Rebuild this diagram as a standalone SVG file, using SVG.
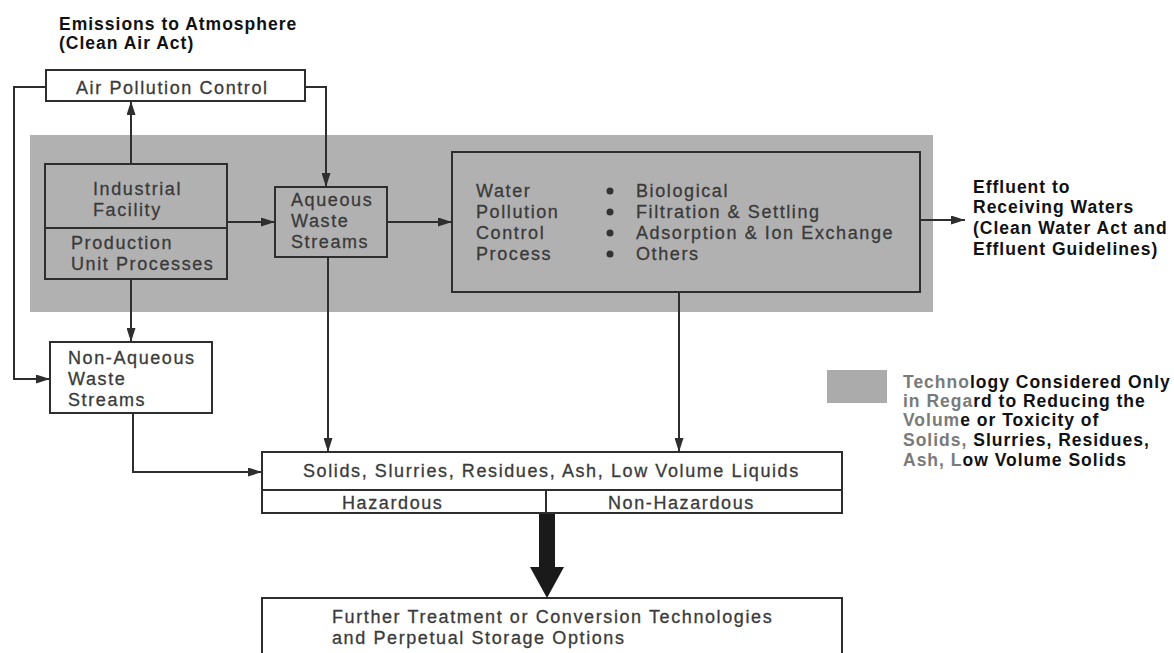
<svg xmlns="http://www.w3.org/2000/svg" width="1174" height="653" viewBox="0 0 1174 653">
<style>
.box{fill:#fff;stroke:#2e2e2e;stroke-width:2}
.gbox{fill:none;stroke:#2e2e2e;stroke-width:2}
.t{font-family:"Liberation Sans",Arial,sans-serif;font-size:18px;letter-spacing:1.6px;fill:#3a3a3a;stroke:#3a3a3a;stroke-width:0.3px}
.b{font-family:"Liberation Sans",Arial,sans-serif;font-size:17.5px;font-weight:bold;letter-spacing:1px;fill:#111}
.fade{fill:#7a7a7a}
.c{fill:none;stroke:#2e2e2e;stroke-width:2}
</style>
<defs>
<marker id="ah" markerUnits="userSpaceOnUse" markerWidth="14" markerHeight="9" refX="14" refY="4.5" orient="auto">
<path d="M0,0 L14,4.5 L0,9 z" fill="#2e2e2e"/>
</marker>
</defs>
<rect width="1174" height="653" fill="#fff"/>

<g id="band">
<rect x="30" y="135" width="903" height="177" fill="#b1b1b1"/>
</g>

<g id="title">
<text class="b" x="59" y="30">Emissions to Atmosphere</text>
<text class="b" x="59" y="49">(Clean Air Act)</text>
</g>

<g id="air-pollution-control">
<rect class="box" x="46" y="70" width="259" height="31"/>
<text class="t" x="76" y="94">Air Pollution Control</text>
</g>

<g id="industrial-facility">
<rect class="gbox" x="45" y="164" width="182" height="115"/>
<line class="c" x1="45" y1="228" x2="227" y2="228"/>
<text class="t" x="93" y="195">Industrial</text>
<text class="t" x="93" y="216">Facility</text>
<text class="t" x="71" y="249">Production</text>
<text class="t" x="71" y="270">Unit Processes</text>
</g>

<g id="aqueous-waste-streams">
<rect class="gbox" x="275" y="187" width="112" height="70"/>
<text class="t" x="291" y="206">Aqueous</text>
<text class="t" x="291" y="227">Waste</text>
<text class="t" x="291" y="248">Streams</text>
</g>

<g id="water-pollution-control">
<rect class="gbox" x="452" y="152" width="468" height="140"/>
<text class="t" x="476" y="197">Water</text>
<text class="t" x="476" y="218">Pollution</text>
<text class="t" x="476" y="239">Control</text>
<text class="t" x="476" y="260">Process</text>
<circle cx="610" cy="191" r="3.5" fill="#333"/>
<circle cx="610" cy="212" r="3.5" fill="#333"/>
<circle cx="610" cy="233" r="3.5" fill="#333"/>
<circle cx="610" cy="254" r="3.5" fill="#333"/>
<text class="t" x="636" y="197">Biological</text>
<text class="t" x="636" y="218">Filtration &amp; Settling</text>
<text class="t" x="636" y="239">Adsorption &amp; Ion Exchange</text>
<text class="t" x="636" y="260">Others</text>
</g>

<g id="effluent">
<text class="b" x="973" y="193">Effluent to</text>
<text class="b" x="973" y="213">Receiving Waters</text>
<text class="b" x="973" y="234">(Clean Water Act and</text>
<text class="b" x="973" y="255">Effluent Guidelines)</text>
</g>

<g id="non-aqueous-waste-streams">
<rect class="box" x="50" y="342" width="162" height="71"/>
<text class="t" x="68" y="364">Non-Aqueous</text>
<text class="t" x="68" y="385">Waste</text>
<text class="t" x="68" y="406">Streams</text>
</g>

<g id="legend">
<rect x="827" y="370" width="60" height="33" fill="#ababab"/>
<text class="b" x="903" y="388"><tspan class="fade">Techno</tspan>logy Considered Only</text>
<text class="b" x="903" y="407"><tspan class="fade">in Rega</tspan>rd to Reducing the</text>
<text class="b" x="903" y="426"><tspan class="fade">Volum</tspan>e or Toxicity of</text>
<text class="b" x="903" y="446"><tspan class="fade">Solids,</tspan> Slurries, Residues,</text>
<text class="b" x="903" y="466"><tspan class="fade">Ash, L</tspan>ow Volume Solids</text>
</g>

<g id="solids">
<rect class="box" x="262" y="452" width="580" height="61"/>
<line class="c" x1="262" y1="490" x2="842" y2="490"/>
<line class="c" x1="546" y1="490" x2="546" y2="513"/>
<text class="t" x="303" y="477">Solids, Slurries, Residues, Ash, Low Volume Liquids</text>
<text class="t" x="342" y="509">Hazardous</text>
<text class="t" x="608" y="509">Non-Hazardous</text>
</g>

<g id="further-treatment">
<rect class="box" x="262" y="598" width="580" height="70"/>
<text class="t" x="332" y="623">Further Treatment or Conversion Technologies</text>
<text class="t" x="332" y="644">and Perpetual Storage Options</text>
</g>

<g id="connectors">
<path class="c" d="M46,87 H14 V379 H50" marker-end="url(#ah)"/>
<path class="c" d="M305,87 H326 V187" marker-end="url(#ah)"/>
<path class="c" d="M131,164 V101" marker-end="url(#ah)"/>
<path class="c" d="M131,279 V342" marker-end="url(#ah)"/>
<path class="c" d="M227,222 H275" marker-end="url(#ah)"/>
<path class="c" d="M387,222 H452" marker-end="url(#ah)"/>
<path class="c" d="M328,257 V452" marker-end="url(#ah)"/>
<path class="c" d="M679,292 V452" marker-end="url(#ah)"/>
<path class="c" d="M920,220 H965" marker-end="url(#ah)"/>
<path class="c" d="M133,413 V472 H262" marker-end="url(#ah)"/>
<path d="M539,514 H555 V567 H564 L547,598 L530,567 H539 Z" fill="#1a1a1a"/>
</g>
</svg>
